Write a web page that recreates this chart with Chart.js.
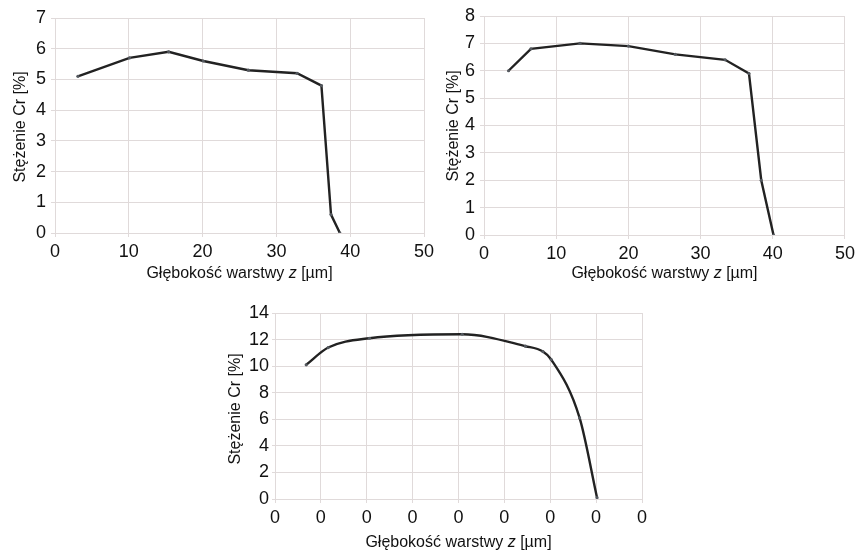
<!DOCTYPE html>
<html>
<head>
<meta charset="utf-8">
<script src="https://cdn.jsdelivr.net/npm/chart.js@4.4.1/dist/chart.umd.min.js"></script>
<style>
  html, body { margin: 0; padding: 0; background: #ffffff; }
  #wrap { position: relative; width: 859px; height: 553px; overflow: hidden; }
  canvas { position: absolute; left: 0; top: 0; }
</style>
</head>
<body>
<div id="wrap">
  <canvas id="c1" width="859" height="553"></canvas>
  <canvas id="c2" width="859" height="553"></canvas>
  <canvas id="c3" width="859" height="553"></canvas>
</div>
<script>
// ---- Data ----
const depth1 = [3.1, 10.1, 15.4, 20.1, 26.2, 32.8, 36.1, 37.4, 38.6];
const cr1    = [5.1, 5.7, 5.9, 5.6, 5.3, 5.2, 4.8, 0.6, 0.0];

const depth2 = [3.4, 6.5, 13.3, 20.0, 26.5, 33.4, 36.7, 38.4, 40.1];
const cr2    = [6.0, 6.8, 7.0, 6.9, 6.6, 6.4, 5.9, 2.0, 0.0];

const depth3 = [3.4, 5.8, 10.3, 20.4, 27.3, 29.2, 30.1, 33.2, 35.1];
const cr3    = [10.1, 11.4, 12.1, 12.4, 11.5, 11.1, 10.5, 6.1, 0.1];

const xTickLabels3 = ["0", "0", "0", "0", "0", "0", "0", "0", "0"];

const yTitle = "Stężenie Cr [%]";
const xTitleParts = [["Głębokość warstwy ", false], ["z", true], [" [µm]", false]];

// ---- Styling ----
const FONT = "'Liberation Sans', Arial, Helvetica, sans-serif";
const GRID = "#e0dada";
const LINE = "#222222";
const TXT = "#111111";

function pts(xs, ys) { return xs.map((x, i) => ({ x: x, y: ys[i] })); }

function titlesPlugin(cfg) {
  return {
    id: 'axisTitles',
    afterDraw(chart) {
      const ctx = chart.ctx;
      const ca = chart.chartArea;
      ctx.save();
      ctx.fillStyle = TXT;
      ctx.textBaseline = 'alphabetic';
      const parts = xTitleParts.map(([t, it]) => {
        ctx.font = (it ? 'italic ' : '') + '16px ' + FONT;
        return { t, it, w: ctx.measureText(t).width };
      });
      const total = parts.reduce((s, p) => s + p.w, 0);
      let x = (ca.left + ca.right) / 2 - total / 2 + (cfg.xShift || 0);
      ctx.textAlign = 'left';
      parts.forEach(p => {
        ctx.font = (p.it ? 'italic ' : '') + '16px ' + FONT;
        ctx.fillText(p.t, x, cfg.xBase);
        x += p.w;
      });
      ctx.translate(cfg.yBase, cfg.yCenter);
      ctx.rotate(-Math.PI / 2);
      ctx.font = '16px ' + FONT;
      ctx.textAlign = 'center';
      ctx.fillText(yTitle, 0, 0);
      ctx.restore();
    }
  };
}

function makeChart(id, data, o) {
  return new Chart(document.getElementById(id), {
    type: 'line',
    data: {
      datasets: [{
        data: data,
        borderColor: LINE,
        backgroundColor: LINE,
        borderWidth: 2.4,
        pointRadius: 1.6,
        pointBorderWidth: 0,
        pointBackgroundColor: '#555a60',
        fill: false,
        tension: 0,
        cubicInterpolationMode: o.smooth ? 'monotone' : 'default'
      }]
    },
    options: {
      responsive: false,
      animation: false,
      events: [],
      layout: { padding: o.padding },
      plugins: { legend: { display: false }, tooltip: { enabled: false } },
      scales: {
        x: {
          type: 'linear',
          min: o.xMin, max: o.xMax,
          afterFit: s => { s.height = o.xH; },
          afterBuildTicks: s => {
            const t = [];
            for (let v = o.xMin; v <= o.xMax + 1e-9; v += o.xStep) t.push({ value: v });
            s.ticks = t;
          },
          ticks: {
            font: { family: FONT, size: 18 }, color: TXT, padding: o.xPad,
            maxRotation: 0, autoSkip: false,
            callback: o.xLabels ? (v, i) => o.xLabels[i] : (v) => String(v)
          },
          grid: { color: GRID, lineWidth: 1, tickLength: 4, drawTicks: true },
          border: { display: true, color: GRID }
        },
        y: {
          type: 'linear',
          min: 0, max: o.yMax,
          afterFit: s => { s.width = o.yW; },
          ticks: {
            stepSize: o.yStep, font: { family: FONT, size: 18 }, color: TXT, padding: o.yPad
          },
          grid: { color: GRID, lineWidth: 1, tickLength: o.yTick, drawTicks: true },
          border: { display: true, color: GRID }
        }
      }
    },
    plugins: [titlesPlugin(o.titles)]
  });
}

// Chart 1: plot area x 55..424, y 18..233
makeChart('c1', pts(depth1, cr1), {
  padding: { left: 0, top: 18, right: 859 - 424, bottom: 553 - 233 - 30 },
  yW: 55, xH: 30, xMin: 0, xMax: 50, xStep: 10, yMax: 7, yStep: 1,
  xPad: 4, yPad: 5, yTick: 4,
  titles: { xBase: 278, yBase: 25, yCenter: 127 }
});

// Chart 2: plot area x 484..848, y 16..235
makeChart('c2', pts(depth2, cr2), {
  padding: { left: 484 - 55, top: 16, right: 859 - 848, bottom: 553 - 235 - 30 },
  yW: 55, xH: 30, xMin: 0, xMax: 50, xStep: 10, yMax: 8, yStep: 1,
  xPad: 4, yPad: 5, yTick: 4,
  titles: { xBase: 278, yBase: 458, yCenter: 126 }
});

// Chart 3: plot area x 275..642, y 313..499
makeChart('c3', pts(depth3, cr3), {
  padding: { left: 275 - 55, top: 313, right: 859 - 642, bottom: 553 - 499 - 30 },
  yW: 55, xH: 30, xMin: 0, xMax: 40, xStep: 5, yMax: 14, yStep: 2,
  xPad: 4, yPad: 3, yTick: 3, smooth: true, xLabels: xTickLabels3,
  titles: { xBase: 547, yBase: 240, yCenter: 409 }
});
</script>
</body>
</html>
